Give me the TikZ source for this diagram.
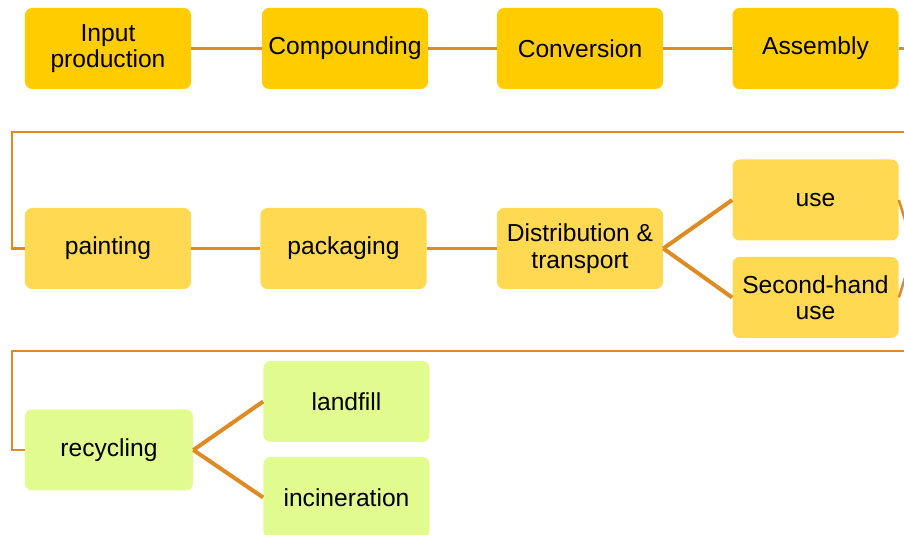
\documentclass[tikz,border=0pt]{standalone}
\usepackage{fontspec}
\setmainfont{Liberation Sans}
\definecolor{stagegold}{HTML}{FFCC00}
\definecolor{stageyellow}{HTML}{FFD952}
\definecolor{stagelime}{HTML}{E2FB8E}
\definecolor{linkorange}{HTML}{E08A22}
\begin{document}
\begin{tikzpicture}[x=0.2mm,y=-0.2mm,
    stage/.style={rounded corners=4pt,minimum width=33.2mm,minimum height=16.2mm,
        inner sep=0pt,align=center,font=\fontsize{14}{15}\selectfont},
    makestage/.style={stage,fill=stagegold},
    usestage/.style={stage,fill=stageyellow},
    endstage/.style={stage,fill=stagelime},
    link/.style={draw=linkorange,line width=0.5mm},
    fork/.style={draw=linkorange,line width=0.8mm}]
  \useasboundingbox (0,0) rectangle (904,535);
  \clip (0,0) rectangle (904,535);
  % top row
  \node[makestage] (input)    at (108,48.5)   {Input\\production};
  \node[makestage] (compound) at (345,48.5)   {Compounding};
  \node[makestage] (convert)  at (580,48.5)   {Conversion};
  \node[makestage] (assemble) at (815.5,48.5) {Assembly};
  % middle row
  \node[usestage] (paint)   at (108,248.5)   {painting};
  \node[usestage] (pack)    at (343.5,248.5) {packaging};
  \node[usestage] (distrib) at (580,248.5)   {Distribution \&\\transport};
  \node[usestage] (use)     at (815.5,200)   {use};
  \node[usestage] (reuse)   at (815.5,297.5) {Second-hand\\use};
  % bottom row
  \node[endstage,minimum width=33.6mm] (recycle) at (109,450)   {recycling};
  \node[endstage] (landfill) at (346.5,401.5) {landfill};
  \node[endstage] (burn)     at (346.5,497.5) {incineration};
  % turning points
  \coordinate (backA) at (12,132);
  \coordinate (backB) at (12,351);
  \coordinate (merge) at (914,249);
  % links
  \draw[link] (input) -- (compound);
  \draw[link] (compound) -- (convert);
  \draw[link] (convert) -- (assemble);
  \draw[link] (assemble.east) -| (930,132) -- (backA) |- (paint.west);
  \draw[link] (paint) -- (pack);
  \draw[link] (pack) -- (distrib);
  \draw[fork] (distrib.east) -- (use.west);
  \draw[fork] (distrib.east) -- (reuse.west);
  \draw[link] (use.east) -- (merge);
  \draw[link] (reuse.east) -- (merge);
  \draw[link] (merge) -- (930,249) |- (backB) |- (recycle.west);
  \draw[fork] (recycle.east) -- (landfill.west);
  \draw[fork] (recycle.east) -- (burn.west);
\end{tikzpicture}
\end{document}
